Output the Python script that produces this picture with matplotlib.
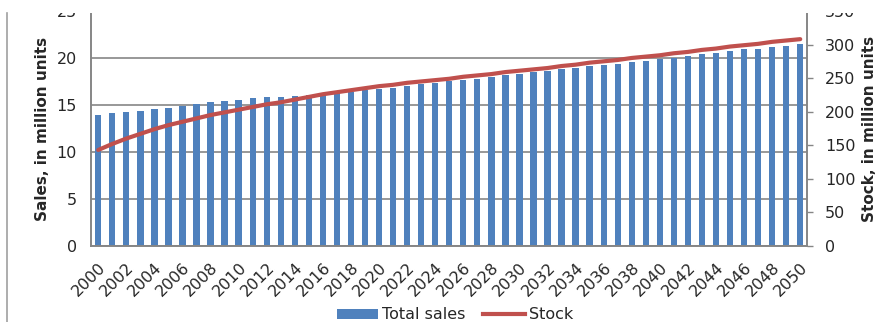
import matplotlib
matplotlib.use("Agg")
import matplotlib.pyplot as plt
from matplotlib.patches import Patch, Rectangle
from matplotlib.lines import Line2D
import numpy as np

years = list(range(2000, 2051))

# sales, in million units (left axis)
total_sales = [
    13.9, 14.1, 14.3, 14.4, 14.6, 14.7, 14.9, 15.1, 15.3, 15.4,
    15.5, 15.7, 15.8, 15.9, 16.0, 16.1, 16.1, 16.3, 16.4, 16.6,
    16.7, 16.8, 17.0, 17.2, 17.3, 17.5, 17.7, 17.8, 18.0, 18.2,
    18.3, 18.5, 18.6, 18.8, 18.9, 19.1, 19.2, 19.4, 19.6, 19.7,
    19.9, 20.0, 20.2, 20.4, 20.5, 20.7, 20.9, 21.0, 21.2, 21.3,
    21.5,
]

# stock, in million units (right axis)
stock = [
    143, 152, 160, 167, 174, 180, 185, 190, 195, 199,
    203, 207, 211, 214, 218, 222, 226, 229, 232, 235,
    238, 240, 243, 245, 247, 249, 252, 254, 256, 259,
    261, 263, 265, 268, 270, 273, 275, 277, 280, 282,
    284, 287, 289, 292, 294, 297, 299, 301, 304, 306,
    308,
]

bar_color = "#4F81BD"
line_color = "#C0504D"
axis_gray = "#868686"
text_color = "#262626"

plt.rcParams["font.family"] = ["DejaVu Sans"]
plt.rcParams["font.size"] = 11.5

fig = plt.figure(figsize=(8.9, 3.22), dpi=100)
ax = fig.add_axes([0.1022, 0.236, 0.8045, 0.730])
ax2 = ax.twinx()

x = np.arange(len(years))
ax.bar(x, total_sales, width=0.45, color=bar_color, zorder=2)
ax2.plot(x, stock, color=line_color, lw=3.0, solid_capstyle="round", zorder=3)

ax.set_xlim(-0.52, len(years) - 0.52)
ax.set_ylim(0, 25)
ax2.set_ylim(0, 350)
ax.set_yticks(range(0, 26, 5))
ax2.set_yticks(range(0, 351, 50))

ax.set_xticks(x[::2])
ax.set_xticklabels([str(y) for y in years[::2]], rotation=45, ha="right",
                   rotation_mode="anchor", color=text_color)
ax.tick_params(axis="x", length=0, pad=10)
ax.tick_params(axis="y", length=0, pad=10, colors=text_color)
ax2.tick_params(axis="y", length=4, width=1, color=axis_gray, pad=9,
                labelcolor=text_color)

ax.set_axisbelow(True)
ax.grid(axis="y", color=axis_gray, lw=1.2, zorder=0)

for a in (ax, ax2):
    a.spines["top"].set_visible(False)
    for s in ("left", "right", "bottom"):
        a.spines[s].set_color(axis_gray)
        a.spines[s].set_linewidth(1.2)

ax.set_ylabel("Sales, in million units", fontweight="bold", fontsize=11,
              color=text_color, labelpad=5)
ax2.set_ylabel("Stock, in million units", fontweight="bold", fontsize=11,
               color=text_color, rotation=90, labelpad=5)

handles = [
    Patch(facecolor=bar_color, edgecolor="none"),
    Line2D([0], [0], color=line_color, lw=3.0),
]
fig.legend(handles, ["Total sales", "Stock"], loc="center", ncol=2,
           bbox_to_anchor=(0.511, 0.022), frameon=False, handlelength=2.6,
           handleheight=0.6, handletextpad=0.25, columnspacing=1.1,
           fontsize=11.5, labelcolor=text_color)

# the source image is cut off at the top
fig.add_artist(Rectangle((0, 1 - 13 / 322), 1, 13 / 322, facecolor="white",
                         edgecolor="none", transform=fig.transFigure, zorder=10))

# thin frame line on the left edge
fig.add_artist(Line2D([0.008, 0.008], [0.0, 1 - 13 / 322], color="#a0a0a0",
                      lw=1.2, transform=fig.transFigure, zorder=11))

fig.savefig("out.png", dpi=100)
